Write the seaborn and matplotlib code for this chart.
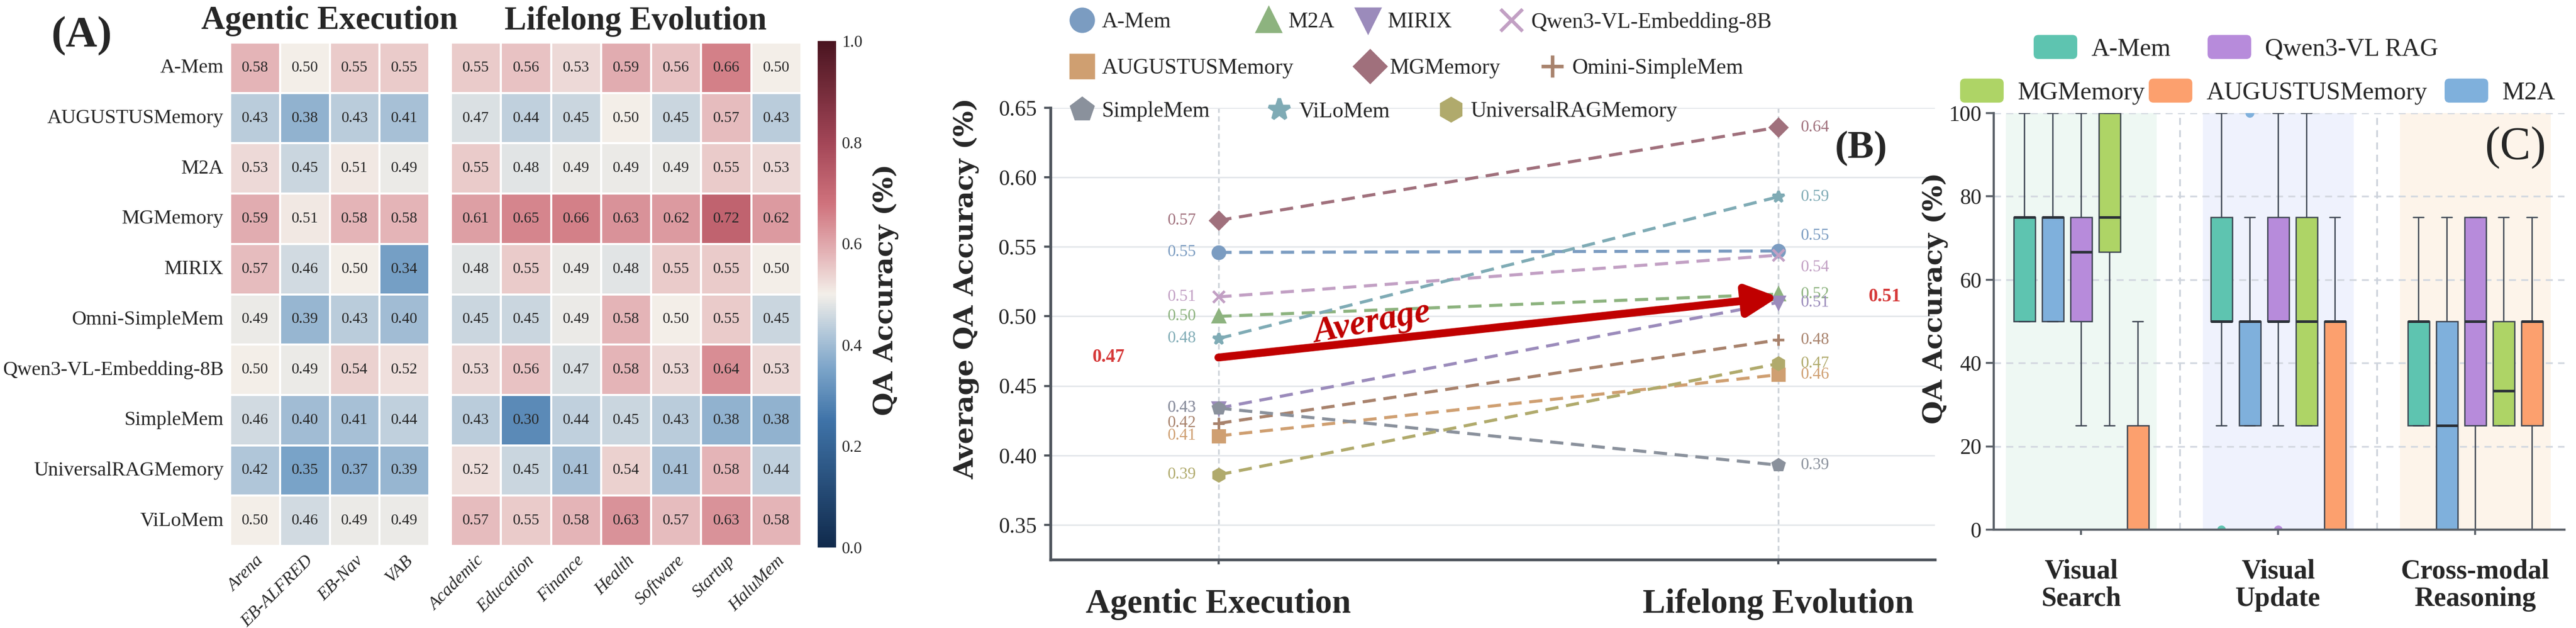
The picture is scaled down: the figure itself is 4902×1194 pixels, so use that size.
import numpy as np
import pandas as pd
import matplotlib
matplotlib.use("Agg")
import matplotlib.pyplot as plt
import seaborn as sns
from matplotlib.colors import LinearSegmentedColormap
from matplotlib.lines import Line2D
from matplotlib.patches import Patch, FancyBboxPatch
from matplotlib.legend_handler import HandlerPatch

# ---------------- data: (A) per-task heatmap ----------------
methods = ["A-Mem", "AUGUSTUSMemory", "M2A", "MGMemory", "MIRIX", "Omni-SimpleMem",
           "Qwen3-VL-Embedding-8B", "SimpleMem", "UniversalRAGMemory", "ViLoMem"]
agentic_tasks = ["Arena", "EB-ALFRED", "EB-Nav", "VAB"]
lifelong_tasks = ["Academic", "Education", "Finance", "Health", "Software", "Startup", "HaluMem"]
agentic_scores = [
    [0.58, 0.50, 0.55, 0.55],
    [0.43, 0.38, 0.43, 0.41],
    [0.53, 0.45, 0.51, 0.49],
    [0.59, 0.51, 0.58, 0.58],
    [0.57, 0.46, 0.50, 0.34],
    [0.49, 0.39, 0.43, 0.40],
    [0.50, 0.49, 0.54, 0.52],
    [0.46, 0.40, 0.41, 0.44],
    [0.42, 0.35, 0.37, 0.39],
    [0.50, 0.46, 0.49, 0.49],
]
lifelong_scores = [
    [0.55, 0.56, 0.53, 0.59, 0.56, 0.66, 0.50],
    [0.47, 0.44, 0.45, 0.50, 0.45, 0.57, 0.43],
    [0.55, 0.48, 0.49, 0.49, 0.49, 0.55, 0.53],
    [0.61, 0.65, 0.66, 0.63, 0.62, 0.72, 0.62],
    [0.48, 0.55, 0.49, 0.48, 0.55, 0.55, 0.50],
    [0.45, 0.45, 0.49, 0.58, 0.50, 0.55, 0.45],
    [0.53, 0.56, 0.47, 0.58, 0.53, 0.64, 0.53],
    [0.43, 0.30, 0.44, 0.45, 0.43, 0.38, 0.38],
    [0.52, 0.45, 0.41, 0.54, 0.41, 0.58, 0.44],
    [0.57, 0.55, 0.58, 0.63, 0.57, 0.63, 0.58],
]

# ---------------- data: (B) average accuracy per stage ----------------
stages = ["Agentic Execution", "Lifelong Evolution"]
avg_methods = ["A-Mem", "M2A", "MIRIX", "Qwen3-VL-Embedding-8B", "AUGUSTUSMemory",
               "MGMemory", "Omini-SimpleMem", "SimpleMem", "ViLoMem", "UniversalRAGMemory"]
avg_agentic = [0.546, 0.500, 0.434, 0.514, 0.414, 0.569, 0.423, 0.434, 0.484, 0.386]
avg_lifelong = [0.547, 0.516, 0.510, 0.544, 0.458, 0.636, 0.483, 0.393, 0.586, 0.466]

# ---------------- data: (C) per-question QA accuracy (%) ----------------
box_tasks = ["Visual\nSearch", "Visual\nUpdate", "Cross-modal\nReasoning"]
box_methods = ["A-Mem", "M2A", "Qwen3-VL RAG", "MGMemory", "AUGUSTUSMemory"]
visual_search = {
    "A-Mem": [50, 50, 75, 75, 100],
    "M2A": [50, 50, 75, 75, 100],
    "Qwen3-VL RAG": [25, 50, 66.7, 75, 100],
    "MGMemory": [25, 66.7, 75, 100, 100],
    "AUGUSTUSMemory": [0, 0, 0, 25, 50],
}
visual_update = {
    "A-Mem": [0, 25, 50, 50, 50, 75, 75, 75, 100],
    "M2A": [25, 25, 25, 50, 50, 50, 50, 75, 100],
    "Qwen3-VL RAG": [0, 25, 50, 50, 50, 75, 75, 100, 100],
    "MGMemory": [25, 25, 50, 75, 100],
    "AUGUSTUSMemory": [0, 0, 50, 50, 75],
}
crossmodal_reasoning = {
    "A-Mem": [25, 25, 50, 50, 75],
    "M2A": [0, 0, 25, 50, 75],
    "Qwen3-VL RAG": [0, 25, 50, 75, 75],
    "MGMemory": [25, 25, 33.3, 50, 75],
    "AUGUSTUSMemory": [0, 25, 50, 50, 75],
}

# ---------------- styling ----------------
W, H, DPI = 4902, 1194, 300
SERIF = ["Liberation Serif", "DejaVu Serif"]
LABEL_FONT = dict(family="DejaVu Serif", weight="bold", size=12.3)

b_colors = {"A-Mem": "#7b9cc1", "M2A": "#8db37f", "MIRIX": "#9b8bbb",
            "Qwen3-VL-Embedding-8B": "#c2a0c4", "AUGUSTUSMemory": "#cf9f71",
            "MGMemory": "#a0707c", "Omini-SimpleMem": "#a8826c", "SimpleMem": "#8a919c",
            "ViLoMem": "#7fabb5", "UniversalRAGMemory": "#b0aa6c"}
b_markers = {"A-Mem": "o", "M2A": "^", "MIRIX": "v", "Qwen3-VL-Embedding-8B": "x",
             "AUGUSTUSMemory": "s", "MGMemory": "D", "Omini-SimpleMem": "+",
             "SimpleMem": "p", "ViLoMem": "*", "UniversalRAGMemory": "h"}
# legend item centres (px) laid out like the original flow legend
b_legend_slots = [(2059, 42), (2414, 42), (2603, 42), (2876, 42), (2059, 130),
                  (2607, 130), (2954, 130), (2059, 212), (2434, 212), (2761, 212)]
right_nudge = {"A-Mem": 0.011, "Qwen3-VL-Embedding-8B": -0.009}

box_colors = {"A-Mem": "#5ec4b0", "M2A": "#7fb0dc", "Qwen3-VL RAG": "#b78bdb",
              "MGMemory": "#aed466", "AUGUSTUSMemory": "#fca06e"}
group_bg = ["#eef8f3", "#eff2fd", "#fdf4ea"]
c_legend_order = ["A-Mem", "Qwen3-VL RAG", "MGMemory", "AUGUSTUSMemory", "M2A"]
c_legend_slots = [(3870, 91), (4201, 91), (3730, 174), (4089, 174), (4652, 174)]

cmap = LinearSegmentedColormap.from_list("qa", [
    (0.0, "#102a4c"), (0.25, "#3f73a8"), (0.35, "#7aa3c8"), (0.42, "#b0c6d9"),
    (0.5, "#f3efe9"), (0.58, "#e4b4b7"), (0.68, "#cf727c"), (0.8, "#a34657"),
    (1.0, "#4a1420")])

sns.set_theme(style="white")
plt.rcParams["font.family"] = SERIF


def px_rect(x0, y0, x1, y1):
    return [x0 / W, 1 - y1 / H, (x1 - x0) / W, (y1 - y0) / H]


fig = plt.figure(figsize=(W / DPI, H / DPI), dpi=DPI)

# ======================= (A) heatmaps =======================
df_ag = pd.DataFrame(agentic_scores, index=methods, columns=agentic_tasks)
df_ll = pd.DataFrame(lifelong_scores, index=methods, columns=lifelong_tasks)

ax_a1 = fig.add_axes(px_rect(438, 81, 817, 1038))
ax_a2 = fig.add_axes(px_rect(858, 81, 1525, 1038))
cax = fig.add_axes(px_rect(1556, 78, 1591, 1041))

hm_kws = dict(cmap=cmap, vmin=0, vmax=1, annot=True, fmt=".2f",
              linewidths=0.5, linecolor="white",
              annot_kws={"fontsize": 7, "color": "#262626"})
sns.heatmap(df_ag, ax=ax_a1, cbar=False, **hm_kws)
sns.heatmap(df_ll, ax=ax_a2, cbar_ax=cax, yticklabels=False, **hm_kws)

for ax in (ax_a1, ax_a2):
    ax.set_xlabel("")
    ax.set_ylabel("")
    ax.tick_params(axis="x", length=0, pad=3, labelsize=8.1)
    for t in ax.get_xticklabels():
        t.set_fontstyle("italic")
        t.set_rotation(45)
        t.set_ha("right")
        t.set_rotation_mode("anchor")
ax_a1.tick_params(axis="y", length=0, pad=3, labelsize=9.2, labelrotation=0)

cbar = ax_a2.collections[0].colorbar
cbar.outline.set_visible(False)
cbar.set_ticks([0, 0.2, 0.4, 0.6, 0.8, 1.0])
cbar.set_ticklabels(["0.0", "0.2", "0.4", "0.6", "0.8", "1.0"])
cax.tick_params(length=0, pad=2.6, labelsize=7.5)
cbar.set_label("QA Accuracy (%)", fontdict=LABEL_FONT)
cax.yaxis.label.set_verticalalignment("center")
cax.yaxis.set_label_coords(3.69, 0.509)

fig.text(627 / W, 1 - 40 / H, "Agentic Execution", ha="center", va="center",
         fontsize=15, fontweight="bold")
fig.text(1209 / W, 1 - 40 / H, "Lifelong Evolution", ha="center", va="center",
         fontsize=15, fontweight="bold")
fig.text(155 / W, 1 - 69 / H, "(A)", ha="center", va="center", fontsize=20, fontweight="bold")

# ======================= (B) slope chart =======================
ax_b = fig.add_axes(px_rect(1999, 205, 3682, 1064))
stage_pos = list(range(len(stages)))
for name, a, l in zip(avg_methods, avg_agentic, avg_lifelong):
    c = b_colors[name]
    sns.lineplot(x=stage_pos, y=[a, l], ax=ax_b, color=c, marker=b_markers[name],
                 markersize=5.5, linewidth=1.4, linestyle=(0, (4.3, 2.5)),
                 mec=c, mew=1.2, zorder=3)

for name, a, l in zip(avg_methods, avg_agentic, avg_lifelong):
    c = b_colors[name]
    ax_b.text(-0.04, a, f"{a:.2f}", ha="right", va="center", color=c, fontsize=7.5)
    ax_b.text(1.04, l + right_nudge.get(name, 0), f"{l:.2f}", ha="left", va="center",
              color=c, fontsize=7.5)

mean_a = float(np.mean(avg_agentic))
mean_l = float(np.mean(avg_lifelong))
ax_b.annotate("", xy=(1, mean_l), xytext=(0, mean_a), zorder=5,
              arrowprops=dict(arrowstyle="-|>,head_length=0.6,head_width=0.3",
                              lw=3.6, color="#c00000", mutation_scale=20,
                              shrinkA=0, shrinkB=0))
ax_b.text(0.275, 0.495, "Average", rotation=10.5, ha="center", va="center",
          rotation_mode="anchor", color="#c00000", fontsize=16.4,
          fontweight="bold", fontstyle="italic", zorder=6)
ax_b.text(-0.196, mean_a, f"{mean_a:.2f}", ha="center", va="center",
          color="#d63a3a", fontsize=8.5, fontweight="bold")
ax_b.text(1.19, mean_l, f"{mean_l:.2f}", ha="center", va="center",
          color="#d63a3a", fontsize=8.5, fontweight="bold", clip_on=False)

ax_b.set_xlim(-0.30, 1.28)
ax_b.set_ylim(0.325, 0.65)
ax_b.set_yticks([0.35, 0.40, 0.45, 0.50, 0.55, 0.60, 0.65])
ax_b.set_yticklabels([f"{v:.2f}" for v in ax_b.get_yticks()])
ax_b.set_xticks(stage_pos)
ax_b.set_xticklabels(stages, fontsize=15.5, fontweight="bold")
ax_b.yaxis.grid(True, color="#e4e7eb", lw=0.7)
ax_b.xaxis.grid(True, color="#cfd4da", lw=0.8, linestyle=(0, (3, 2)))
ax_b.set_axisbelow(True)
for s in ("top", "right"):
    ax_b.spines[s].set_visible(False)
for s in ("left", "bottom"):
    ax_b.spines[s].set_color("#50565e")
    ax_b.spines[s].set_linewidth(1.3)
ax_b.tick_params(axis="y", length=2.9, width=1, pad=3.4, labelsize=10,
                 color="#50565e", left=True)
ax_b.tick_params(axis="x", length=2.2, width=1, pad=11, color="#50565e", bottom=True)
ax_b.set_ylabel("Average QA Accuracy (%)", fontdict=LABEL_FONT)
ax_b.yaxis.label.set_verticalalignment("center")
ax_b.yaxis.set_label_coords(-0.0957, 0.60)

for name, (px, py) in zip(avg_methods, b_legend_slots):
    c = b_colors[name]
    h = Line2D([], [], ls="none", marker=b_markers[name], color=c, mec=c,
               ms=10, mew=1.6)
    fig.legend(handles=[h], labels=[name], loc="center left",
               bbox_to_anchor=((px - 20.8) / W, 1 - py / H), frameon=False,
               fontsize=10, handlelength=1.0, handletextpad=0.4,
               borderpad=0, borderaxespad=0)

fig.text(3542 / W, 1 - 282 / H, "(B)", ha="center", va="center", fontsize=18,
         fontweight="bold")

# ======================= (C) box plots =======================
rows = []
for task, group in zip(box_tasks, [visual_search, visual_update, crossmodal_reasoning]):
    for m in box_methods:
        for v in group[m]:
            rows.append((task, m, v))
df_box = pd.DataFrame(rows, columns=["task", "method", "score"])

ax_c = fig.add_axes(px_rect(3794, 215, 4880, 1007))
sns.boxplot(data=df_box, x="task", y="score", hue="method", order=box_tasks,
            hue_order=box_methods, palette=box_colors, width=0.72, gap=0.24,
            linewidth=0.6, linecolor="#3b4350", saturation=1, legend=False,
            flierprops=dict(marker="o", markersize=3),
            medianprops=dict(linewidth=1.2, color="#2b3138"), ax=ax_c)

# give each outlier dot the colour of its own box
offsets = np.linspace(-0.288, 0.288, len(box_methods))
for ln in ax_c.lines:
    xd = np.asarray(ln.get_xdata(), dtype=float)
    if ln.get_marker() == "o" and len(xd) > 0:
        k = int(np.argmin(np.abs(offsets - (xd[0] - round(xd[0])))))
        col = box_colors[box_methods[k]]
        ln.set_markerfacecolor(col)
        ln.set_markeredgecolor(col)

for i, bg in enumerate(group_bg):
    ax_c.axvspan(i - 0.383, i + 0.383, color=bg, lw=0, zorder=0)
for xsep in (0.5, 1.5):
    ax_c.axvline(xsep, color="#ccd2db", lw=0.8, linestyle=(0, (4, 3)), zorder=0.6)

ax_c.set_xlim(-0.443, 2.453)
ax_c.set_ylim(0, 100)
ax_c.set_yticks([0, 20, 40, 60, 80, 100])
ax_c.yaxis.grid(True, color="#d3d8e0", lw=0.8, linestyle=(0, (4, 3)))
ax_c.set_axisbelow(True)
for s in ("top", "right"):
    ax_c.spines[s].set_visible(False)
for s in ("left", "bottom"):
    ax_c.spines[s].set_color("#5a6068")
    ax_c.spines[s].set_linewidth(1.0)
ax_c.tick_params(axis="y", length=3.6, width=0.9, pad=2, labelsize=10,
                 color="#5a6068", left=True)
ax_c.tick_params(axis="x", length=2.4, width=0.9, pad=11, labelsize=12.5,
                 color="#5a6068", bottom=True)
for t in ax_c.get_xticklabels():
    t.set_fontweight("bold")
    t.set_linespacing(1.1)
ax_c.set_xlabel("")
ax_c.set_ylabel("QA Accuracy (%)", fontdict=LABEL_FONT)
ax_c.yaxis.label.set_verticalalignment("center")
ax_c.yaxis.set_label_coords(-0.103, 0.556)


def rounded_patch(legend, orig_handle, xdescent, ydescent, width, height, fontsize):
    return FancyBboxPatch((-xdescent, -ydescent), width, height,
                          boxstyle=f"round,pad=0,rounding_size={0.2 * height}")


for name, (px, py) in zip(c_legend_order, c_legend_slots):
    h = Patch(facecolor=box_colors[name], edgecolor="none")
    fig.legend(handles=[h], labels=[name], loc="center left",
               bbox_to_anchor=(px / W, 1 - py / H), frameon=False, fontsize=11.5,
               handlelength=1.73, handleheight=1.09, handletextpad=0.55,
               borderpad=0, borderaxespad=0,
               handler_map={Patch: HandlerPatch(patch_func=rounded_patch)})

fig.text(4787 / W, 1 - 281 / H, "(C)", ha="center", va="center", fontsize=21)

fig.savefig("out.png", dpi=DPI, facecolor="white")
